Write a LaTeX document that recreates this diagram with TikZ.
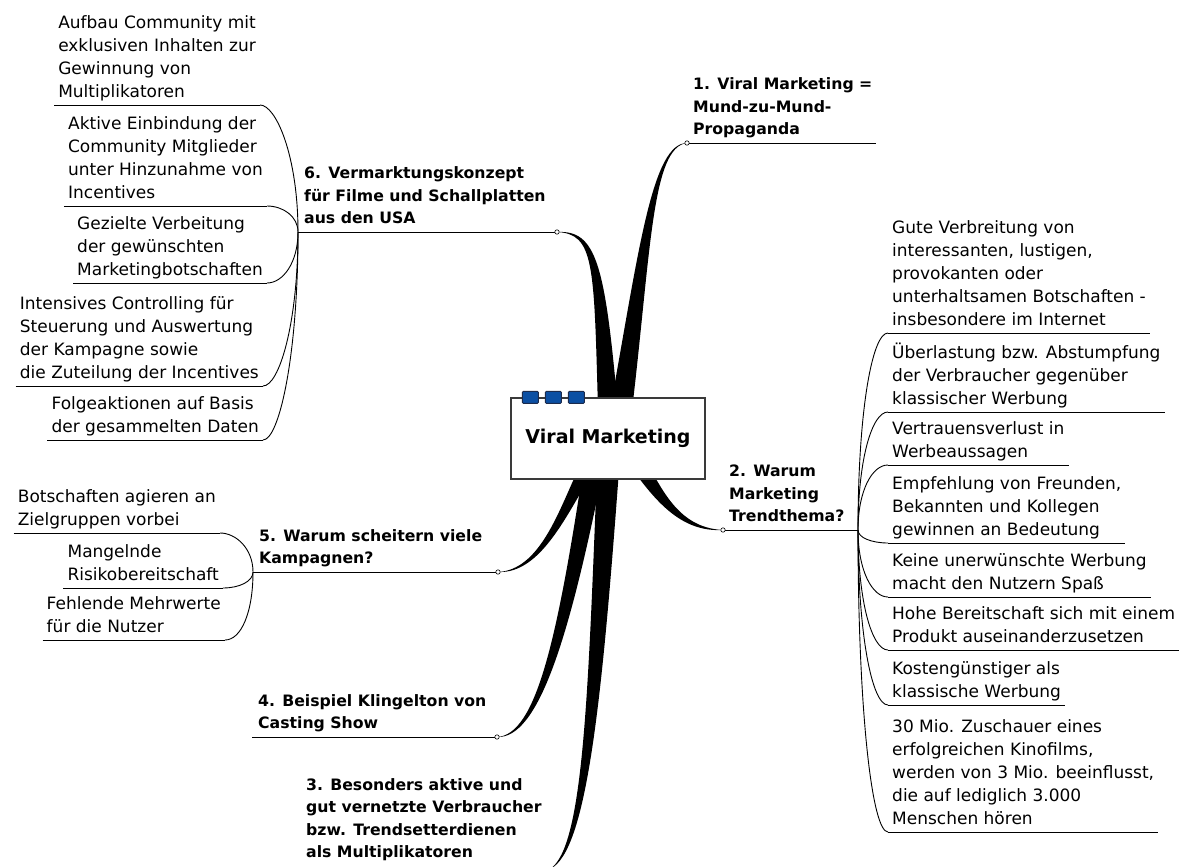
\documentclass[tikz,border=0pt]{standalone}
\usepackage{fontspec}
\setmainfont{DejaVu Sans}
\usetikzlibrary{calc}
\definecolor{tabBlue}{HTML}{0B4FA3}
\definecolor{tabEdge}{HTML}{1C2B4C}
\definecolor{boxEdge}{HTML}{3A3A3A}
\newcommand\subsize{\fontsize{17bp}{23bp}\selectfont}
\newcommand\topicsize{\fontsize{15.7bp}{22.5bp}\selectfont\bfseries}
\newcommand\hubsize{\fontsize{19bp}{23bp}\selectfont\bfseries}
\tikzset{
  sub/.style={font=\subsize, align=left, inner xsep=4bp, inner ysep=7bp, text depth=0pt},
  topic/.style={font=\topicsize, align=left, anchor=south west, inner xsep=6bp, inner ysep=8bp, text depth=0pt},
  rule/.style={line width=0.9bp},
  twig/.style={line width=0.9bp, to path={.. controls ($(\tikztostart)!0.6!(\tikztostart |- \tikztotarget)$) and +(#1,0) .. (\tikztotarget)}},
  knot/.style={draw, fill=white, line width=0.6bp},
  centerbox/.style={draw=boxEdge, line width=1.3bp, fill=white, minimum width=194bp, minimum height=81bp, inner sep=0pt, font=\hubsize},
  tab/.style={draw=tabEdge, fill=tabBlue, line width=1bp, minimum width=16bp, minimum height=12bp, inner sep=0pt, rounded corners=1bp}
}
\begin{document}
\begin{tikzpicture}[x=1bp, y=-1bp]
    \useasboundingbox (0,0) rectangle (1184,867);
    % junctions of the main branches
    \coordinate (j1) at (687,143);
    \coordinate (j2) at (723,530);
    \coordinate (j3) at (550,869);
    \coordinate (j4) at (497,737);
    \coordinate (j5) at (498,572);
    \coordinate (j6) at (557,232);
    \coordinate (e1) at (876,143);
    \coordinate (a3) at (300,866);
    \coordinate (a4) at (252,737);
    % hubs of the sub topics
    \coordinate (hub2) at (858,530);
    \coordinate (hub5) at (253,572);
    \coordinate (hub6) at (298,232);
    % tapered branches
    \fill (610,410) .. controls (639,250) and (652,143) .. (j1) .. controls (652,147) and (651,250) .. (632,410) -- cycle;
    \fill (598,410) .. controls (594,262) and (594,234) .. (j6) .. controls (596,230) and (605,262) .. (618,410) -- cycle;
    \fill (633,470) .. controls (661,509) and (686,532) .. (j2) .. controls (686,528) and (669,503) .. (651,470) -- cycle;
    \fill (578,470) .. controls (559,510) and (540,570) .. (j5) .. controls (541,574) and (567,514) .. (594,470) -- cycle;
    \fill (583,470) .. controls (557,640) and (536,735) .. (j4) .. controls (538,739) and (569,640) .. (603,470) -- cycle;
    \fill (597,470) .. controls (588,700) and (583,848) .. (j3) .. controls (587,852) and (602,700) .. (619,470) -- cycle;
    % centre
    \node[centerbox] (vm) at (608,438.5) {Viral Marketing};
    \foreach \i in {0,1,2}
        \node[tab] at ([xshift={(20+23*\i)*1bp}]vm.north west) {};
    % main topics
    \node[topic] (t1) at (j1) {1. Viral Marketing =\\Mund-zu-Mund-\\Propaganda};
    \node[topic] (t2) at (j2) {2. Warum\\Marketing\\Trendthema?};
    \node[topic] (t3) at (a3) {3. Besonders aktive und\\gut vernetzte Verbraucher\\bzw. Trendsetterdienen\\als Multiplikatoren};
    \node[topic] (t4) at (a4) {4. Beispiel Klingelton von\\Casting Show};
    \node[topic] (t5) at (hub5) {5. Warum scheitern viele\\Kampagnen?};
    \node[topic] (t6) at (hub6) {6. Vermarktungskonzept\\für Filme und Schallplatten\\aus den USA};
    \draw[rule] (j1) -- (e1);
    \draw[rule] (j2) -- (hub2);
    \draw[rule] (a4) -- (j4);
    \draw[rule] (hub5) -- (j5);
    \draw[rule] (hub6) -- (j6);
    \foreach \p in {j1,j2,j4,j5,j6}
        \draw[knot] (\p) circle (2.2);
    % 2: reasons
    \node[sub, anchor=south west] (w1) at (888,333) {Gute Verbreitung von\\interessanten, lustigen,\\provokanten oder\\unterhaltsamen Botschaften -\\insbesondere im Internet};
    \node[sub, anchor=south west] (w2) at (888,412) {Überlastung bzw. Abstumpfung\\der Verbraucher gegenüber\\klassischer Werbung};
    \node[sub, anchor=south west] (w3) at (888,465) {Vertrauensverlust in\\Werbeaussagen};
    \node[sub, anchor=south west] (w4) at (888,543) {Empfehlung von Freunden,\\Bekannten und Kollegen\\gewinnen an Bedeutung};
    \node[sub, anchor=south west] (w5) at (888,597) {Keine unerwünschte Werbung\\macht den Nutzern Spaß};
    \node[sub, anchor=south west] (w6) at (888,650) {Hohe Bereitschaft sich mit einem\\Produkt auseinanderzusetzen};
    \node[sub, anchor=south west] (w7) at (888,705) {Kostengünstiger als\\klassische Werbung};
    \node[sub, anchor=south west] (w8) at (888,832) {30 Mio. Zuschauer eines\\erfolgreichen Kinofilms,\\werden von 3 Mio. beeinflusst,\\die auf lediglich 3.000\\Menschen hören};
    \foreach \i in {1,...,8} {
        \draw[rule] (w\i.south west) -- (w\i.south east);
        \draw[twig=-16] (hub2) to (w\i.south west);
    }
    % 5: failures
    \node[sub, anchor=south east] (k1) at (220,533) {Botschaften agieren an\\Zielgruppen vorbei};
    \node[sub, anchor=south east] (k2) at (223,588) {Mangelnde\\Risikobereitschaft};
    \node[sub, anchor=south east] (k3) at (225,640) {Fehlende Mehrwerte\\für die Nutzer};
    \foreach \i in {1,2,3} {
        \draw[rule] (k\i.south west) -- (k\i.south east);
        \draw[twig=16] (hub5) to (k\i.south east);
    }
    % 6: concept
    \node[sub, anchor=south east] (v1) at (260,105) {Aufbau Community mit\\exklusiven Inhalten zur\\Gewinnung von\\Multiplikatoren};
    \node[sub, anchor=south east] (v2) at (267,206) {Aktive Einbindung der\\Community Mitglieder\\unter Hinzunahme von\\Incentives};
    \node[sub, anchor=south east] (v3) at (267,283) {Gezielte Verbeitung\\der gewünschten\\Marketingbotschaften};
    \node[sub, anchor=south east] (v4) at (263,386) {Intensives Controlling für\\Steuerung und Auswertung\\der Kampagne sowie\\die Zuteilung der Incentives};
    \node[sub, anchor=south east] (v5) at (263,440) {Folgeaktionen auf Basis\\der gesammelten Daten};
    \foreach \i in {1,...,5} {
        \draw[rule] (v\i.south west) -- (v\i.south east);
        \draw[twig=16] (hub6) to (v\i.south east);
    }
\end{tikzpicture}
\end{document}
